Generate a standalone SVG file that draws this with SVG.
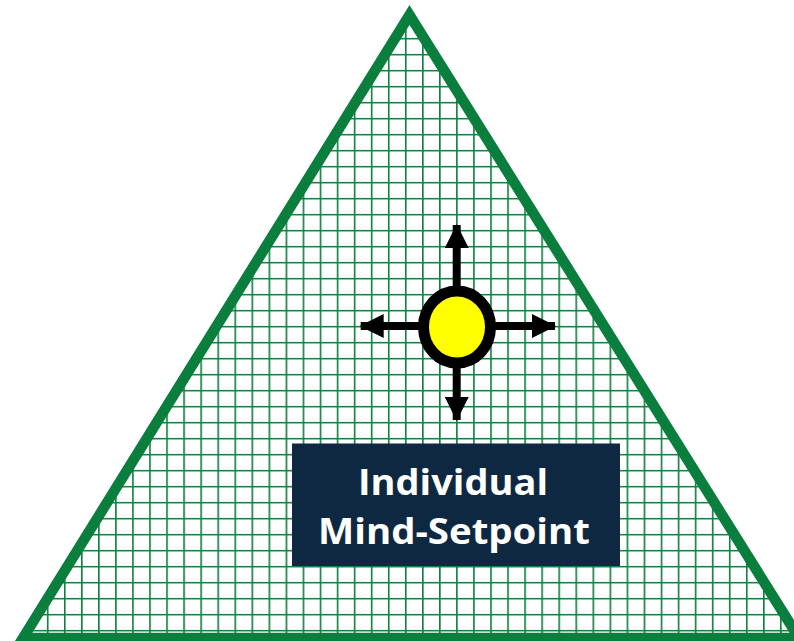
<svg xmlns="http://www.w3.org/2000/svg" width="794" height="641" viewBox="0 0 794 641">
  <style>
    .grid { stroke: #0A7E3C; stroke-width: 1.6; fill: none; }
    .tri { fill: url(#gridpat); stroke: #0A7E3C; stroke-width: 10.5; stroke-linejoin: miter; }
    .conn { stroke: #000; stroke-width: 8; fill: none; marker-end: url(#ah); }
    .label { fill: #FFFFFF; font-family: "Open Sans", "Noto Sans", "Liberation Sans", sans-serif; font-weight: bold; font-size: 36px; text-anchor: middle; }
  </style>
  <defs>
    <pattern id="gridpat" patternUnits="userSpaceOnUse" x="46.9" y="5.9" width="17.05" height="16">
      <path class="grid" d="M0.8,0 V16 M0,0.8 H17.05"/>
    </pattern>
    <marker id="ah" viewBox="0 0 24 24" refX="23" refY="12" markerWidth="24" markerHeight="24" markerUnits="userSpaceOnUse" orient="auto">
      <path d="M0,0 L24,12 L0,24 z" fill="#000"/>
    </marker>
  </defs>
  <rect width="794" height="641" fill="#FFFFFF"/>
  <g id="triangle">
    <path class="tri" d="M409.5,15 L799,638 L23,638 Z"/>
  </g>
  <g id="connectors">
    <line class="conn" x1="456.7" y1="292" x2="456.7" y2="225"/>
    <line class="conn" x1="456.7" y1="362" x2="456.7" y2="420"/>
    <line class="conn" x1="422" y1="326" x2="360.7" y2="326"/>
    <line class="conn" x1="492" y1="326" x2="555" y2="326"/>
  </g>
  <g id="setpoint">
    <ellipse cx="457" cy="327" rx="33.5" ry="36" fill="#FFFF00" stroke="#000" stroke-width="11"/>
  </g>
  <g id="label-box">
    <rect x="292" y="443.5" width="328" height="122.5" fill="#0E2841"/>
    <text class="label" x="453" y="494.5" textLength="190" lengthAdjust="spacingAndGlyphs">Individual</text>
    <text class="label" x="454" y="543.5" textLength="272" lengthAdjust="spacingAndGlyphs">Mind-Setpoint</text>
  </g>
</svg>
